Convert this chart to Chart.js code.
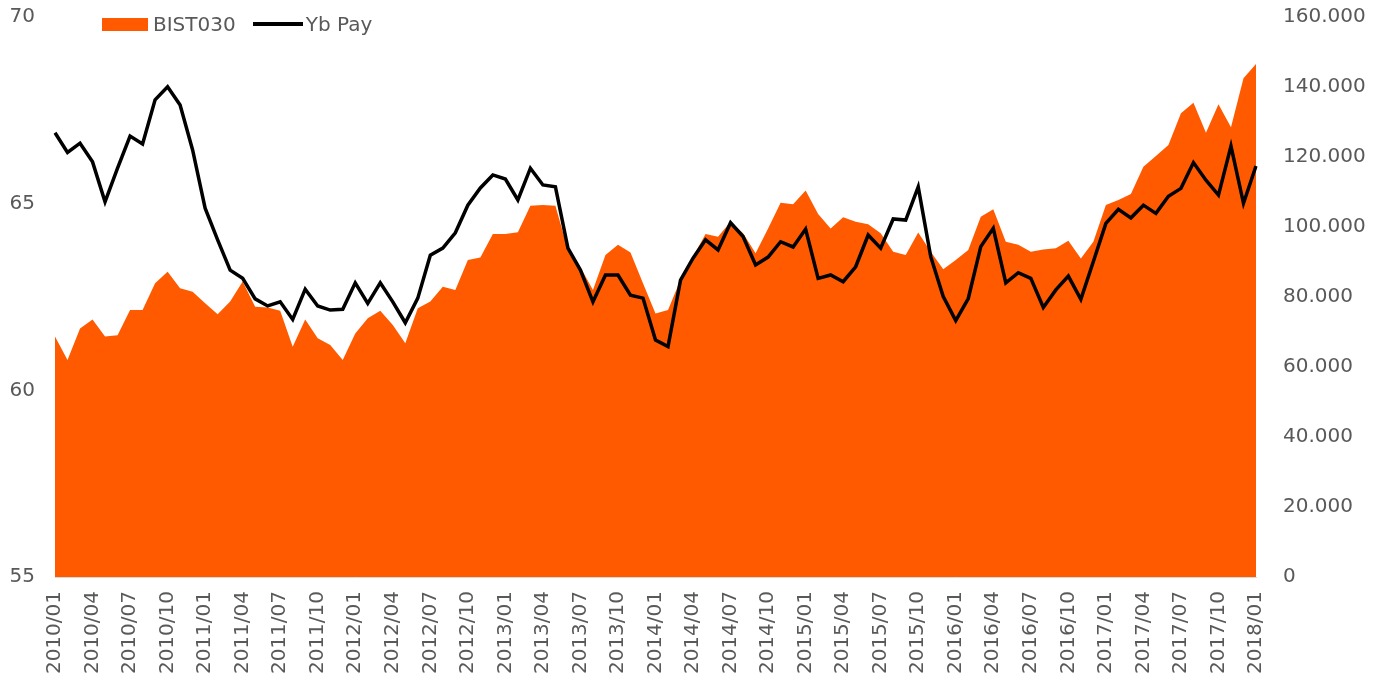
<!DOCTYPE html>
<html>
<head>
<meta charset="utf-8">
<script src="https://cdn.jsdelivr.net/npm/chart.js@4/dist/chart.umd.min.js"></script>
<style>
    body { margin: 0; background: #fff; }
    #wrap { position: relative; width: 1389px; height: 683px; }
    .legend { position: absolute; top: 12px; left: 102px; display: flex; align-items: center;
              font-family: 'DejaVu Sans', sans-serif; font-size: 20px; color: #595959; }
    .legend .box { width: 46px; height: 13px; background: #FF5A00; margin-right: 5px; }
    .legend .ln { width: 50px; height: 4px; background: #000; margin-left: 17px; margin-right: 3px; }
</style>
</head>
<body>
<div id="wrap">
    <canvas id="chart" width="1389" height="683"></canvas>
    <div class="legend">
        <span class="box"></span><span>BIST030</span>
        <span class="ln"></span><span>Yb Pay</span>
    </div>
</div>
<script>
// aylar 2010/01 - 2018/01
const months = [];
for (let y = 2010; y <= 2018; y++) {
    for (let m = 1; m <= 12; m++) {
        if (y === 2018 && m > 1) break;
        months.push(y + '/' + String(m).padStart(2, '0'));
    }
}

// BIST030 endeksi (sağ eksen)
const bist030 = [
    68700, 62000, 71000, 73600, 68700, 69100, 76300, 76300, 83900, 87200, 82500, 81500,
    78200, 75100, 78700, 84400, 77200, 77000, 76100, 65800, 73600, 68200, 66300, 62000,
    69600, 73900, 76100, 72000, 66800, 76800, 78700, 82900, 82000, 90600, 91300, 98000,
    98000, 98500, 106100, 106300, 106100, 93500, 88500, 82000, 92000, 94900, 92700, 83900,
    75300, 76300, 84900, 91500, 98000, 97200, 101500, 98200, 92500, 99600, 106900, 106500,
    110400, 103700, 99600, 102800, 101500, 100800, 98200, 92900, 92000, 98400, 92900, 87900,
    90600, 93400, 102900, 105100, 95800, 94900, 92900, 93600, 93900, 96100, 91000, 95800,
    106300, 107700, 109400, 117200, 120300, 123400, 132500, 135500, 126900, 135100, 128500, 142500,
    146600
];

// yabancı payı % (sol eksen)
const ybPay = [
    66.90, 66.37, 66.62, 66.12, 65.05, 65.95, 66.81, 66.60, 67.78, 68.13, 67.64, 66.44,
    64.88, 64.03, 63.22, 63.00, 62.45, 62.26, 62.37, 61.90, 62.71, 62.26, 62.15, 62.17,
    62.88, 62.33, 62.88, 62.37, 61.81, 62.47, 63.62, 63.81, 64.22, 64.96, 65.42, 65.77,
    65.66, 65.10, 65.95, 65.50, 65.45, 63.81, 63.22, 62.37, 63.09, 63.09, 62.55, 62.47,
    61.35, 61.17, 62.95, 63.54, 64.03, 63.76, 64.49, 64.12, 63.36, 63.57, 63.98, 63.84,
    64.32, 63.00, 63.09, 62.91, 63.31, 64.16, 63.81, 64.59, 64.56, 65.45, 63.58, 62.51,
    61.87, 62.46, 63.85, 64.34, 62.88, 63.15, 63.00, 62.22, 62.69, 63.06, 62.44, 63.45,
    64.47, 64.85, 64.62, 64.96, 64.74, 65.20, 65.41, 66.10, 65.63, 65.23, 66.54, 65.01,
    66.01
];

const leftTicks = [55, 60, 65, 70];
const rightTicks = [0, 20000, 40000, 60000, 80000, 100000, 120000, 140000, 160000];

const textColor = '#595959';
const font = { family: 'DejaVu Sans', size: 20 };

function fmtThousands(v) {
    if (v === 0) return '0';
    return (v / 1000).toFixed(3);
}

// eksen genişliklerini sabitle, etiket boşluklarını sıfırla
function fixAxis(w) {
    return s => { s.width = w; s.paddingTop = 0; s.paddingBottom = 0; };
}

new Chart(document.getElementById('chart'), {
    type: 'line',
    data: {
        labels: months,
        datasets: [
            {
                label: 'Yb Pay',
                data: ybPay,
                yAxisID: 'yLeft',
                borderColor: '#000',
                borderWidth: 3.5,
                pointRadius: 0,
                tension: 0,
                fill: false,
                order: 0
            },
            {
                label: 'BIST030',
                data: bist030,
                yAxisID: 'yRight',
                borderWidth: 0,
                backgroundColor: '#FF5A00',
                pointRadius: 0,
                tension: 0,
                fill: 'origin',
                order: 1
            }
        ]
    },
    options: {
        responsive: false,
        animation: false,
        layout: { padding: { top: 17, left: 0, right: 0, bottom: 0 } },
        plugins: { legend: { display: false }, tooltip: { enabled: false } },
        scales: {
            x: {
                grid: { display: false, drawTicks: false },
                border: { display: true, color: '#d9d9d9', width: 1 },
                ticks: {
                    autoSkip: false,
                    maxRotation: 90,
                    minRotation: 90,
                    padding: 14,
                    color: textColor,
                    font: font,
                    callback: (v, i) => i % 3 === 0 ? months[i] : ''
                },
                afterFit: s => { s.height = 106; s.paddingLeft = 0; s.paddingRight = 0; }
            },
            yLeft: {
                position: 'left',
                min: 55,
                max: 70,
                grid: { display: false, drawTicks: false },
                border: { display: false },
                afterBuildTicks: s => { s.ticks = leftTicks.map(v => ({ value: v })); },
                ticks: { padding: 20, color: textColor, font: font },
                afterFit: fixAxis(55)
            },
            yRight: {
                position: 'right',
                min: 0,
                max: 160000,
                grid: { display: false, drawTicks: false },
                border: { display: false },
                afterBuildTicks: s => { s.ticks = rightTicks.map(v => ({ value: v })); },
                ticks: { padding: 27, color: textColor, font: font, callback: v => fmtThousands(v) },
                afterFit: fixAxis(133)
            }
        }
    }
});
</script>
</body>
</html>
